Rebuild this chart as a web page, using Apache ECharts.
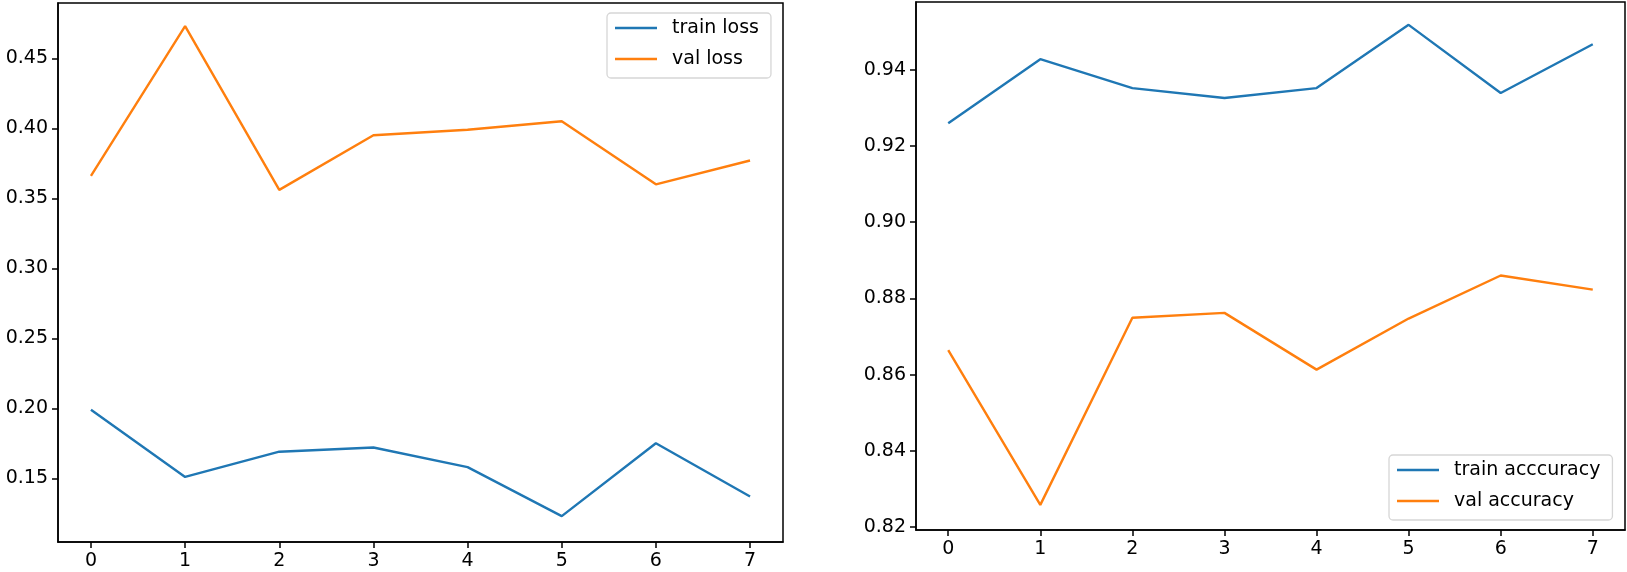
<!DOCTYPE html>
<html>
<head>
<meta charset="utf-8">
<script src="https://cdn.jsdelivr.net/npm/echarts@6/dist/echarts.min.js"></script>
<style>
  html, body { margin: 0; padding: 0; background: #fff; }
  #chart { width: 1627px; height: 572px; }
</style>
</head>
<body>
<div id="chart"></div>
<script>
// values
const epochs = [0, 1, 2, 3, 4, 5, 6, 7];
const trainLoss = [0.199, 0.151, 0.169, 0.172, 0.158, 0.123, 0.175, 0.137];
const valLoss = [0.366, 0.473, 0.356, 0.395, 0.399, 0.405, 0.360, 0.377];
const trainAcc = [0.926, 0.9428, 0.9352, 0.9326, 0.9352, 0.9518, 0.9339, 0.9467];
const valAcc = [0.8664, 0.8258, 0.8749, 0.8762, 0.8613, 0.8747, 0.886, 0.8823];
const lossTicks = [0.15, 0.20, 0.25, 0.30, 0.35, 0.40, 0.45];
const accTicks = [0.82, 0.84, 0.86, 0.88, 0.90, 0.92, 0.94];

const BLUE = '#1f77b4';
const ORANGE = '#ff7f0e';
const FONT = 'DejaVu Sans';
const FS = 19;

const pairs = (ys) => epochs.map((x, i) => [x, ys[i]]);

function xAxis(gridIndex) {
    return {
        type: 'value', gridIndex, min: -0.35, max: 7.35,
        splitLine: { show: false },
        axisLine: { show: true, lineStyle: { color: '#000', width: 1.5 } },
        axisTick: { show: true, length: 6, customValues: epochs, lineStyle: { color: '#000', width: 1.5 } },
        axisLabel: { customValues: epochs, color: '#000', fontFamily: FONT, fontSize: FS, margin: 10 }
    };
}

function yAxis(gridIndex, min, max, ticks) {
    return {
        type: 'value', gridIndex, min, max,
        splitLine: { show: false },
        axisLine: { show: true, onZero: false, lineStyle: { color: '#000', width: 1.5 } },
        axisTick: { show: true, length: 6, customValues: ticks, lineStyle: { color: '#000', width: 1.5 } },
        axisLabel: {
            customValues: ticks, color: '#000', fontFamily: FONT, fontSize: FS, margin: 10,
            formatter: (v) => v.toFixed(2)
        }
    };
}

function line(name, data, color, idx) {
    return {
        name, type: 'line', data: pairs(data), xAxisIndex: idx, yAxisIndex: idx,
        symbol: 'none', color,
        lineStyle: { color, width: 2.4 }
    };
}

// plain line sample in the legend, no marker
function legend(names, pos) {
    return Object.assign({
        orient: 'vertical', data: names,
        icon: 'rect', itemWidth: 42, itemHeight: 2.6, itemGap: 11,
        padding: [5, 12, 9, 8],
        borderColor: '#d6d6d6', borderWidth: 1.3, borderRadius: 4,
        backgroundColor: 'rgba(255,255,255,0.8)',
        textStyle: { color: '#000', fontFamily: FONT, fontSize: FS, lineHeight: 20, padding: [0, 0, 0, 10] }
    }, pos);
}

const chart = echarts.init(document.getElementById('chart'));
chart.setOption({
    animation: false,
    backgroundColor: '#fff',
    grid: [
        { left: 58, top: 3, width: 725, height: 539, show: true, borderColor: '#000', borderWidth: 1.5, backgroundColor: 'transparent' },
        { left: 916, top: 2, width: 709, height: 528, show: true, borderColor: '#000', borderWidth: 1.5, backgroundColor: 'transparent' }
    ],
    xAxis: [xAxis(0), xAxis(1)],
    yAxis: [
        yAxis(0, 0.1045, 0.4895, lossTicks),
        yAxis(1, 0.8192, 0.9578, accTicks)
    ],
    legend: [
        legend(['train loss', 'val loss'], { left: 607, top: 13 }),
        legend(['train acccuracy', 'val accuracy'], { left: 1389, top: 455 })
    ],
    series: [
        line('train loss', trainLoss, BLUE, 0),
        line('val loss', valLoss, ORANGE, 0),
        line('train acccuracy', trainAcc, BLUE, 1),
        line('val accuracy', valAcc, ORANGE, 1)
    ]
});
</script>
</body>
</html>
